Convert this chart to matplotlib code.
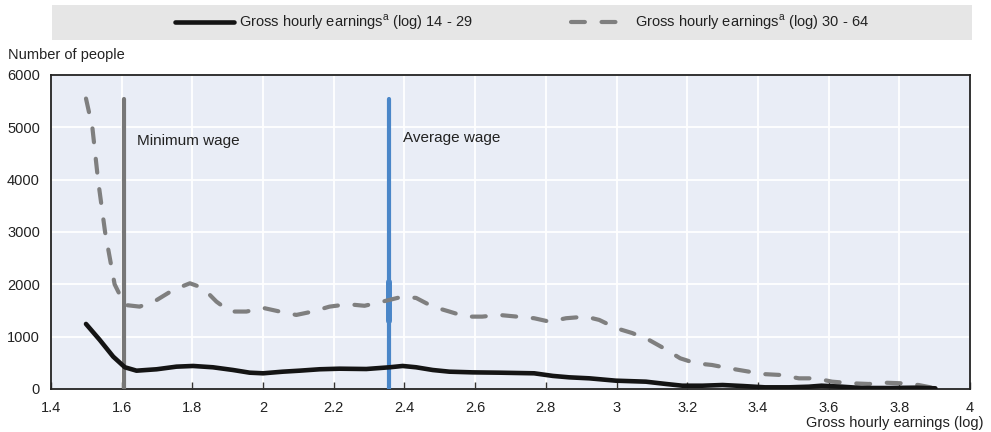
import matplotlib
matplotlib.use("Agg")
import matplotlib.pyplot as plt
from matplotlib.patches import Rectangle

plt.rcParams['font.family'] = ['Liberation Sans Narrow', 'Liberation Sans', 'DejaVu Sans']
plt.rcParams['mathtext.fontset'] = 'custom'
plt.rcParams['mathtext.rm'] = 'Liberation Sans'
plt.rcParams['lines.scale_dashes'] = False

# Earnings distribution, ages 14-29
young_x = [1.499, 1.538, 1.576, 1.609, 1.642, 1.699, 1.755, 1.802, 1.858, 1.915, 1.962, 2.0,
           2.056, 2.103, 2.16, 2.216, 2.292, 2.358, 2.395, 2.433, 2.48, 2.527, 2.592, 2.668,
           2.767, 2.82, 2.866, 2.923, 2.998, 3.083, 3.14, 3.186, 3.243, 3.3, 3.357, 3.42,
           3.488, 3.544, 3.58, 3.637, 3.694, 3.77, 3.845, 3.902]
young_y = [1243, 937, 618, 415, 350, 377, 427, 440, 415, 363, 312, 300,
           331, 350, 377, 388, 382, 415, 440, 415, 363, 331, 318, 312,
           300, 250, 223, 204, 159, 140, 96, 63, 63, 76, 57, 32,
           32, 44, 63, 44, 19, 19, 25, 13]

# Earnings distribution, ages 30-64
older_x = [1.499, 1.517, 1.533, 1.553, 1.58, 1.609, 1.651, 1.699, 1.745, 1.793, 1.83, 1.868,
           1.906, 1.953, 2.0, 2.047, 2.094, 2.14, 2.188, 2.24, 2.287, 2.338, 2.395, 2.433,
           2.48, 2.527, 2.574, 2.62, 2.668, 2.767, 2.81, 2.857, 2.913, 2.951, 3.0, 3.044,
           3.092, 3.134, 3.18, 3.224, 3.27, 3.318, 3.375, 3.41, 3.464, 3.516, 3.563, 3.61,
           3.666, 3.714, 3.761, 3.807, 3.855, 3.902]
older_y = [5550, 5000, 4000, 3000, 2000, 1606, 1574, 1700, 1890, 2020, 1930, 1670,
           1480, 1480, 1550, 1480, 1415, 1480, 1574, 1620, 1590, 1670, 1765, 1740,
           1574, 1480, 1383, 1383, 1415, 1352, 1287, 1352, 1383, 1320, 1160, 1070,
           937, 778, 587, 491, 459, 396, 331, 287, 268, 204, 204, 140,
           109, 96, 120, 109, 76, 13]

min_wage = 1.607
avg_wage = 2.357
marker_top = 5550

x_ticks = [1.4, 1.6, 1.8, 2.0, 2.2, 2.4, 2.6, 2.8, 3.0, 3.2, 3.4, 3.6, 3.8, 4.0]
x_tick_labels = ['1.4', '1.6', '1.8', '2', '2.2', '2.4', '2.6', '2.8', '3', '3.2', '3.4', '3.6', '3.8', '4']
y_ticks = [0, 1000, 2000, 3000, 4000, 5000, 6000]

label_young = r'Gross hourly earnings$^{\mathrm{a}}$ (log) 14 - 29'
label_older = r'Gross hourly earnings$^{\mathrm{a}}$ (log) 30 - 64'

W, H = 991, 432
fig = plt.figure(figsize=(W / 100, H / 100), dpi=100)
ax = fig.add_axes([51 / W, 1 - 389 / H, (970 - 51) / W, (389 - 75) / H])
ax.set_facecolor('#e9edf6')

ax.set_xlim(1.4, 4.0)
ax.set_ylim(0, 6000)
ax.set_xticks(x_ticks)
ax.set_xticklabels(x_tick_labels, fontsize=10.5, color='#222222')
ax.set_yticks(y_ticks)
ax.set_yticklabels([str(v) for v in y_ticks], fontsize=10.5, color='#222222')
ax.tick_params(axis='x', direction='in', length=5, width=1, color='#333333', pad=9)
ax.tick_params(axis='y', length=0, pad=8)
ax.grid(True, color='white', linewidth=1.3)
ax.set_axisbelow(True)
for s in ax.spines.values():
    s.set_color('#222222')
    s.set_linewidth(1.3)

ax.plot([min_wage, min_wage], [0, marker_top], color='#777777', lw=3.0,
        solid_capstyle='round', zorder=3)
ax.plot([avg_wage, avg_wage], [0, marker_top], color='#4a86c8', lw=3.0,
        solid_capstyle='round', zorder=3)
ax.plot([avg_wage, avg_wage], [1300, 2050], color='#4a86c8', lw=4.3,
        solid_capstyle='round', zorder=3)

ln_old, = ax.plot(older_x, older_y, color='#7f7f7f', lw=3.0, dashes=(10, 12),
                  dash_capstyle='round', solid_joinstyle='round', zorder=4,
                  label=label_older)
ln_young, = ax.plot(young_x, young_y, color='#141414', lw=3.3,
                    solid_capstyle='round', solid_joinstyle='round', zorder=5,
                    label=label_young)

ax.text(1.643, 4740, 'Minimum wage', fontsize=11, color='#222222', va='center', ha='left')
ax.text(2.395, 4790, 'Average wage', fontsize=11, color='#222222', va='center', ha='left')

fig.text(8 / W, 1 - 55 / H, 'Number of people', fontsize=10.5, color='#222222',
         va='center', ha='left')
fig.text(983 / W, 1 - 423 / H, 'Gross hourly earnings (log)', fontsize=10.5,
         color='#222222', va='center', ha='right')

fig.patches.append(Rectangle((52 / W, 1 - 40 / H), (972 - 52) / W, 35 / H,
                             transform=fig.transFigure, facecolor='#e6e6e6',
                             edgecolor='none', zorder=0))
fig.legend(handles=[ln_young, ln_old], loc='center', bbox_to_anchor=(522 / W, 1 - 22.5 / H),
           ncol=2, frameon=False, fontsize=10.5, handlelength=4.0, handletextpad=0.35,
           columnspacing=6.8, labelcolor='#222222')

fig.savefig('out.png', dpi=100)
